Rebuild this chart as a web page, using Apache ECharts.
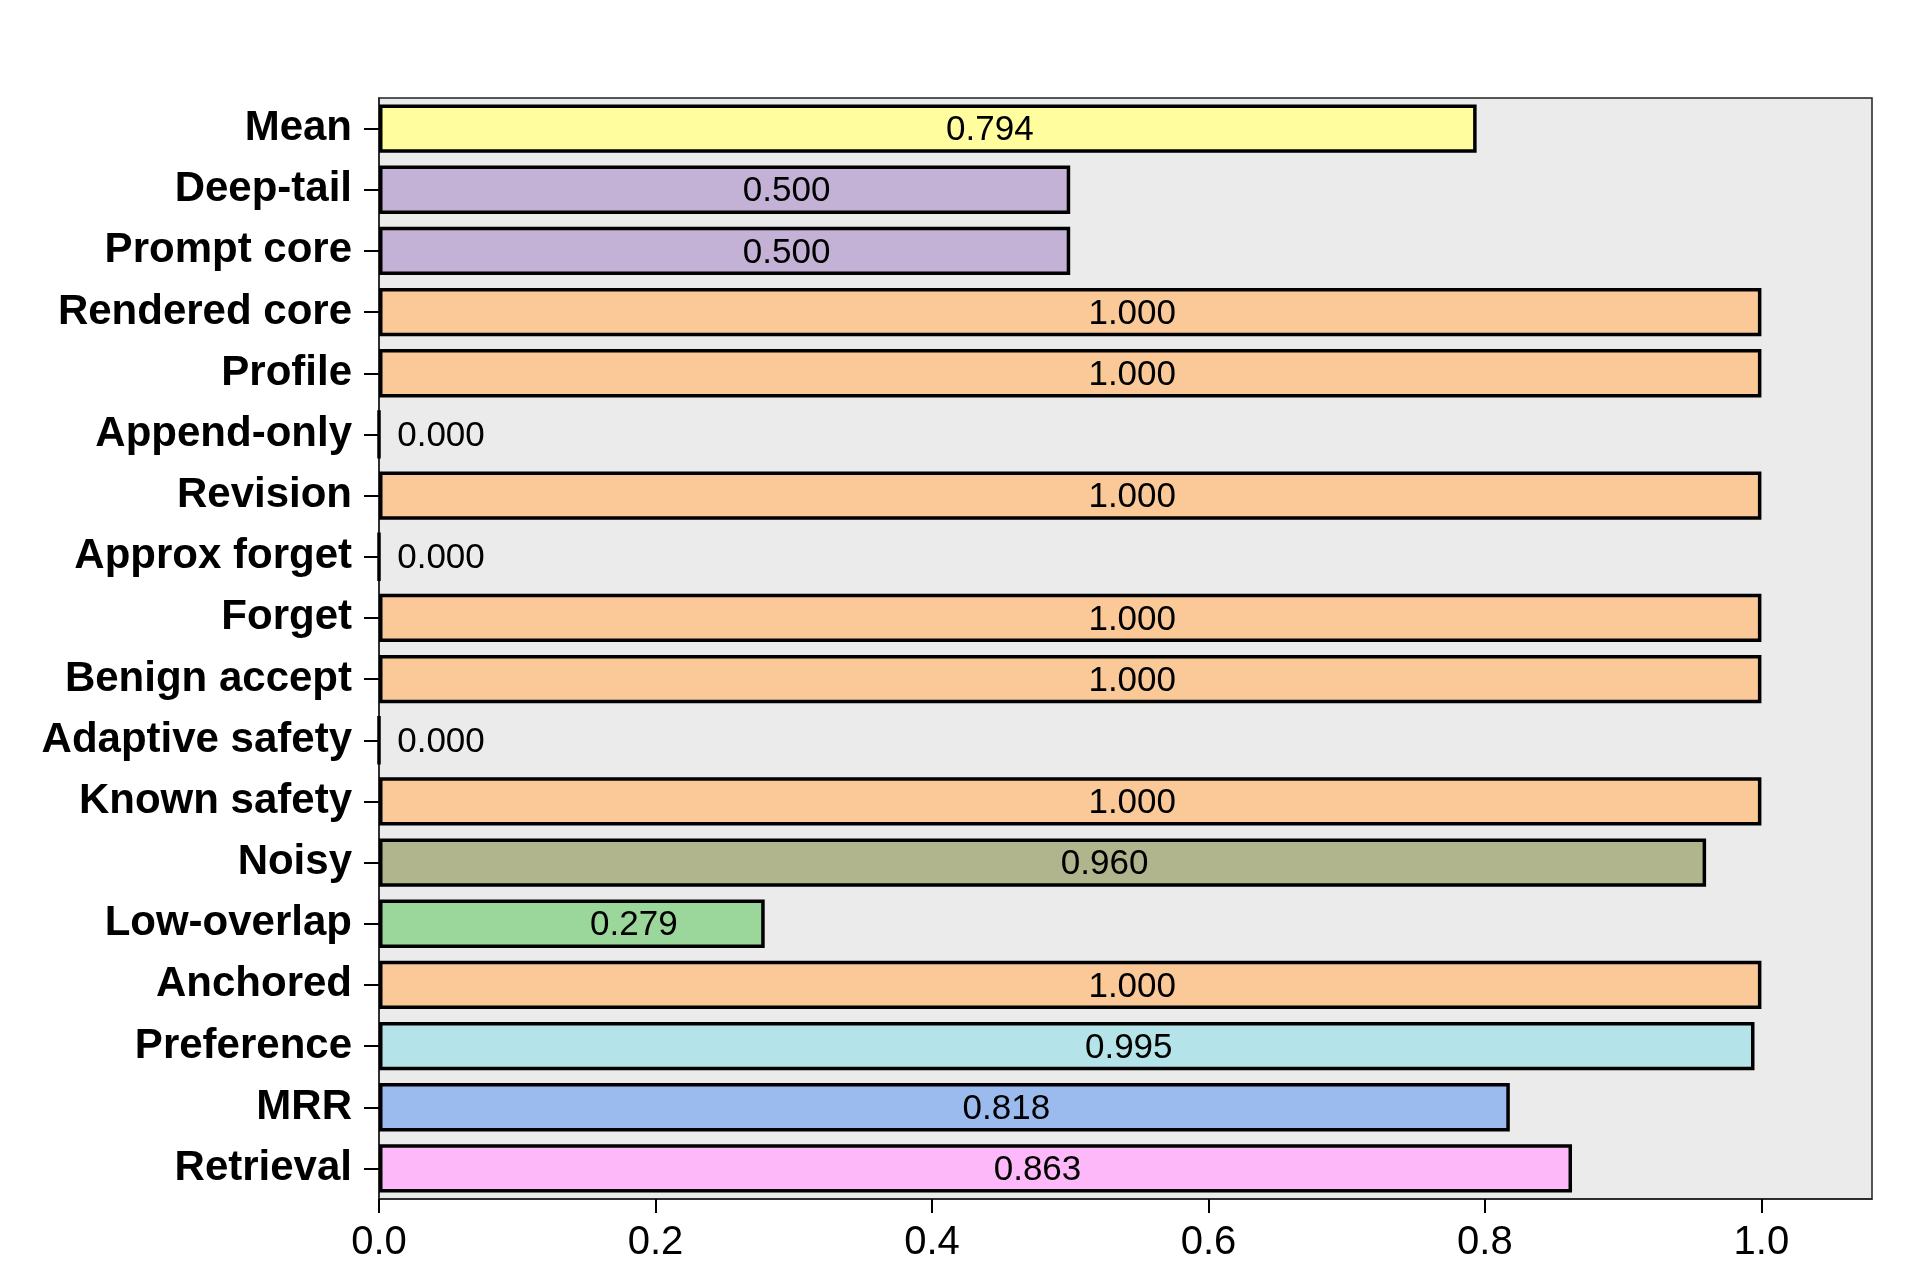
<!DOCTYPE html>
<html>
<head>
<meta charset="utf-8">
<script src="https://cdn.jsdelivr.net/npm/echarts@6/dist/echarts.min.js"></script>
<style>
  html, body { margin: 0; padding: 0; background: #fff; }
  #chart { width: 1932px; height: 1277px; }
</style>
</head>
<body>
<div id="chart"></div>
<script>
// top to bottom
const categories = ['Mean', 'Deep-tail', 'Prompt core', 'Rendered core', 'Profile', 'Append-only',
  'Revision', 'Approx forget', 'Forget', 'Benign accept', 'Adaptive safety', 'Known safety',
  'Noisy', 'Low-overlap', 'Anchored', 'Preference', 'MRR', 'Retrieval'];
const scores = [0.794, 0.500, 0.500, 1.000, 1.000, 0.000, 1.000, 0.000, 1.000, 1.000, 0.000, 1.000,
  0.960, 0.279, 1.000, 0.995, 0.818, 0.863];
const barColors = ['#fffd9e', '#c3b1d6', '#c3b1d6', '#fbc898', '#fbc898', '#fbc898', '#fbc898', '#fbc898',
  '#fbc898', '#fbc898', '#fbc898', '#fbc898', '#b0b58e', '#9bd69a', '#fbc898', '#b4e4e9', '#9bbbef', '#fcb8f8'];
const xTicks = [0, 0.2, 0.4, 0.6, 0.8, 1.0];

const font = 'Liberation Sans, Arial, sans-serif';
const chart = echarts.init(document.getElementById('chart'));

chart.setOption({
  animation: false,
  grid: {
    left: 379, right: 60, top: 98, bottom: 78,
    show: true,
    backgroundColor: '#ebebeb',
    borderColor: '#222',
    borderWidth: 1.5
  },
  xAxis: {
    type: 'value',
    min: 0,
    max: 1.08,
    interval: 0.2,
    splitLine: { show: false },
    axisLine: { show: true, lineStyle: { color: '#222', width: 1.5 } },
    axisTick: { show: true, length: 14, lineStyle: { color: '#000', width: 2 }, customValues: xTicks },
    axisLabel: {
      customValues: xTicks,
      fontFamily: font, fontSize: 40, color: '#000', margin: 24,
      formatter: v => v.toFixed(1)
    }
  },
  yAxis: {
    type: 'category',
    data: categories,
    inverse: true,
    axisLine: { show: true, lineStyle: { color: '#222', width: 1.5 } },
    axisTick: { show: true, alignWithLabel: true, length: 15, lineStyle: { color: '#000', width: 2 } },
    axisLabel: { fontFamily: font, fontSize: 42, fontWeight: 'bold', color: '#000', margin: 27 }
  },
  series: [{
    type: 'bar',
    barWidth: '79%',
    data: scores.map((v, i) => ({ value: v, itemStyle: { color: barColors[i] } })),
    itemStyle: { borderColor: '#000', borderWidth: 3.5 },
    label: {
      show: true,
      position: 'inside',
      offset: [62, 2],
      fontFamily: font,
      fontSize: 35,
      color: '#000',
      formatter: p => p.value.toFixed(3)
    }
  }]
});
</script>
</body>
</html>
